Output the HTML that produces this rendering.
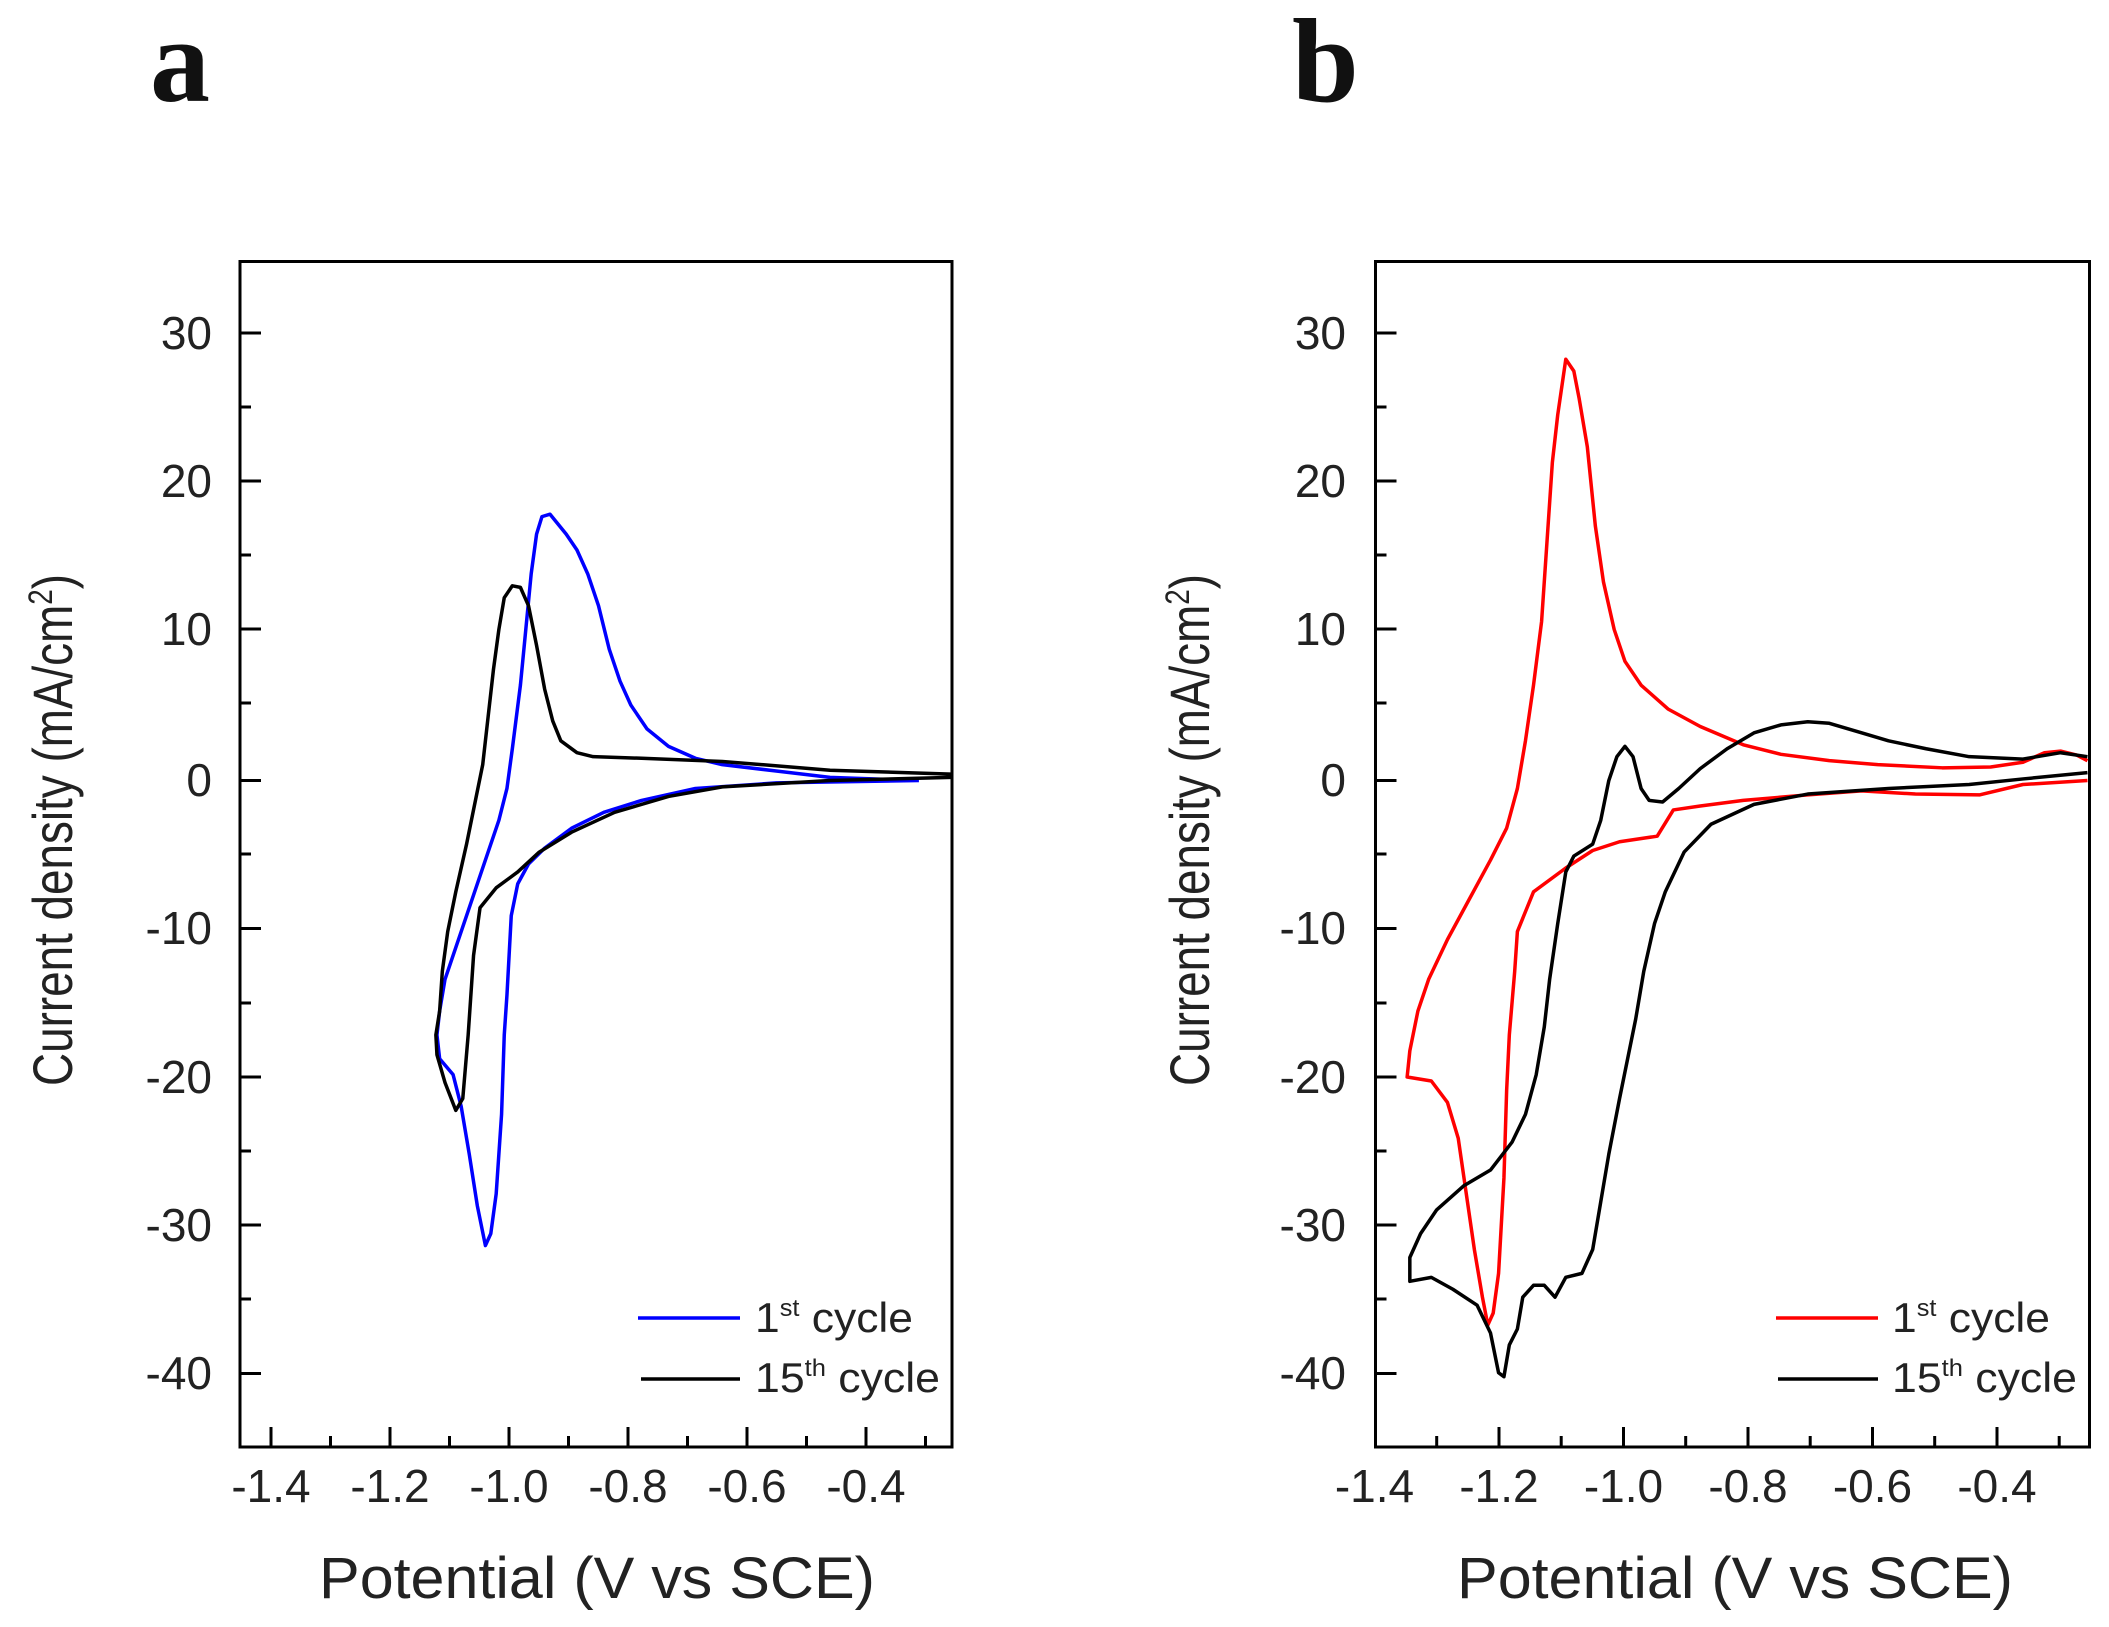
<!DOCTYPE html>
<html><head><meta charset="utf-8"><style>
html,body{margin:0;padding:0;background:#fff}
svg{display:block}
text{font-family:"Liberation Sans",Arial,sans-serif;fill:#222}
</style></head><body>
<svg width="2109" height="1627" viewBox="0 0 2109 1627" xmlns="http://www.w3.org/2000/svg">
<rect width="2109" height="1627" fill="#fff"/>
<text x="150" y="101" style="font-family:'Liberation Serif',serif;font-weight:bold;font-size:120px;fill:#111">a</text>
<text x="1292" y="101" style="font-family:'Liberation Serif',serif;font-weight:bold;font-size:120px;fill:#111">b</text>

<!-- Panel a -->
<g stroke="#000" stroke-width="3" fill="none">
<rect x="240" y="261.5" width="712" height="1185.5"/>
<path d="M240 333h21M240 481h21M240 629h21M240 780.5h21M240 928.5h21M240 1077h21M240 1225h21M240 1373.5h21
M240 407h11M240 555h11M240 703h11M240 854h11M240 1003h11M240 1151h11M240 1299h11
M271 1447v-20M390 1447v-20M509 1447v-20M628 1447v-20M747 1447v-20M866 1447v-20
M330.5 1447v-11M449.5 1447v-11M568.5 1447v-11M687.5 1447v-11M806.5 1447v-11M925.5 1447v-11"/>
</g>
<g font-size="46" text-anchor="end">
<text x="212" y="349">30</text><text x="212" y="497">20</text><text x="212" y="645">10</text><text x="212" y="796">0</text>
<text x="212" y="944">-10</text><text x="212" y="1093">-20</text><text x="212" y="1241">-30</text><text x="212" y="1389">-40</text>
</g>
<g font-size="46" text-anchor="middle">
<text x="271" y="1502">-1.4</text><text x="390" y="1502">-1.2</text><text x="509" y="1502">-1.0</text>
<text x="628" y="1502">-0.8</text><text x="747" y="1502">-0.6</text><text x="866" y="1502">-0.4</text>
</g>
<text x="597" y="1598" font-size="58" text-anchor="middle" textLength="556" lengthAdjust="spacingAndGlyphs">Potential (V vs SCE)</text>
<text transform="translate(72,830) rotate(-90)" font-size="56" text-anchor="middle" textLength="512" lengthAdjust="spacingAndGlyphs">Current density (mA/cm<tspan dy="-20" font-size="34">2</tspan><tspan dy="20">)</tspan></text>

<g transform="translate(130,240) scale(0.5385,0.7949)" fill="none" stroke-width="3.5" stroke-linejoin="round">
<polyline vector-effect="non-scaling-stroke" stroke="#0000ff" points="1465,680 1300,676 1200,668 1100,660 1050,652 1000,637 960,615 930,585 910,555 890,515 870,460 850,420 830,390 810,370 780,345 765,348 755,370 745,420 735,490 725,560 710,640 700,690 685,730 665,770 640,820 610,880 585,930 575,970 570,1000 575,1030 600,1050 615,1090 630,1150 645,1215 660,1265 670,1250 680,1200 690,1100 695,1000 700,950 708,850 720,810 740,785 770,765 820,740 880,720 950,705 1050,690 1200,683 1465,680"/>
<polyline vector-effect="non-scaling-stroke" stroke="#000" points="1525,672 1300,667 1100,656 950,652 860,650 830,645 800,630 785,605 770,565 755,510 740,460 725,437 710,435 695,450 685,490 675,540 665,600 655,660 640,710 625,760 605,820 590,870 580,920 575,970 568,1000 570,1025 585,1060 605,1095 618,1080 628,1000 638,900 650,840 680,815 720,795 760,770 820,745 900,720 1000,700 1100,688 1300,680 1525,676"/>
</g>
<line x1="638" y1="1318" x2="740" y2="1318" stroke="#0000ff" stroke-width="3.5"/>
<line x1="641" y1="1379" x2="740" y2="1379" stroke="#000" stroke-width="3.5"/>
<g font-size="42">
<text x="755" y="1332" textLength="158" lengthAdjust="spacingAndGlyphs">1<tspan dy="-16" font-size="24">st</tspan><tspan dy="16"> cycle</tspan></text>
<text x="755" y="1392" textLength="185" lengthAdjust="spacingAndGlyphs">15<tspan dy="-16" font-size="24">th</tspan><tspan dy="16"> cycle</tspan></text>
</g>

<!-- Panel b -->
<g stroke="#000" stroke-width="3" fill="none">
<rect x="1375.5" y="261.5" width="714" height="1185.5"/>
<path d="M1375.5 333h21M1375.5 481h21M1375.5 629h21M1375.5 780.5h21M1375.5 928.5h21M1375.5 1077h21M1375.5 1225h21M1375.5 1373.5h21
M1375.5 407h11M1375.5 555h11M1375.5 703h11M1375.5 854h11M1375.5 1003h11M1375.5 1151h11M1375.5 1299h11
M1499 1447v-20M1623.5 1447v-20M1748 1447v-20M1872.5 1447v-20M1997 1447v-20
M1436.7 1447v-11M1561.2 1447v-11M1685.7 1447v-11M1810.2 1447v-11M1934.7 1447v-11M2059.2 1447v-11"/>
</g>
<g font-size="46" text-anchor="end">
<text x="1346" y="349">30</text><text x="1346" y="497">20</text><text x="1346" y="645">10</text><text x="1346" y="796">0</text>
<text x="1346" y="944">-10</text><text x="1346" y="1093">-20</text><text x="1346" y="1241">-30</text><text x="1346" y="1389">-40</text>
</g>
<g font-size="46" text-anchor="middle">
<text x="1374.5" y="1502">-1.4</text><text x="1499" y="1502">-1.2</text><text x="1623.5" y="1502">-1.0</text>
<text x="1748" y="1502">-0.8</text><text x="1872.5" y="1502">-0.6</text><text x="1997" y="1502">-0.4</text>
</g>
<text x="1735" y="1598" font-size="58" text-anchor="middle" textLength="556" lengthAdjust="spacingAndGlyphs">Potential (V vs SCE)</text>
<text transform="translate(1209,830) rotate(-90)" font-size="56" text-anchor="middle" textLength="512" lengthAdjust="spacingAndGlyphs">Current density (mA/cm<tspan dy="-20" font-size="34">2</tspan><tspan dy="20">)</tspan></text>

<g transform="translate(1270,240) scale(0.5378,0.7949)" fill="none" stroke-width="3.5" stroke-linejoin="round">
<polyline vector-effect="non-scaling-stroke" stroke="#ff0000" points="1520,680 1400,685 1320,698 1200,697 1100,693 1000,698 880,705 800,712 750,717 720,750 700,752 650,757 600,768 550,790 490,820 460,870 455,920 445,1000 440,1070 435,1180 425,1300 415,1350 405,1365 395,1330 380,1270 365,1200 350,1130 330,1085 300,1058 255,1053 260,1020 275,970 295,930 330,880 370,830 410,780 440,740 460,690 475,630 490,560 505,480 515,380 525,280 535,220 550,150 565,165 575,200 590,260 605,360 620,430 640,490 660,530 690,560 740,590 800,612 880,635 950,647 1040,655 1130,660 1250,664 1340,663 1400,657 1440,645 1470,643 1500,648 1520,655"/>
<polyline vector-effect="non-scaling-stroke" stroke="#000" points="1520,670 1400,678 1300,685 1150,690 1000,697 900,710 820,735 770,770 735,820 715,860 695,920 680,980 665,1030 650,1080 630,1150 615,1210 600,1270 580,1300 550,1305 530,1330 510,1315 490,1315 470,1330 460,1370 445,1390 435,1430 425,1425 410,1375 385,1340 340,1320 300,1305 260,1310 260,1280 280,1250 310,1220 360,1190 410,1170 450,1135 475,1100 495,1050 510,990 520,930 535,860 550,795 565,775 600,760 615,730 630,680 645,650 660,637 675,650 690,690 705,705 730,707 760,690 800,665 850,640 900,620 950,610 1000,606 1040,608 1100,620 1150,630 1220,640 1300,650 1400,653 1470,645 1520,650"/>
</g>
<line x1="1776" y1="1318" x2="1878" y2="1318" stroke="#ff0000" stroke-width="3.5"/>
<line x1="1778" y1="1379" x2="1878" y2="1379" stroke="#000" stroke-width="3.5"/>
<g font-size="42">
<text x="1892" y="1332" textLength="158" lengthAdjust="spacingAndGlyphs">1<tspan dy="-16" font-size="24">st</tspan><tspan dy="16"> cycle</tspan></text>
<text x="1892" y="1392" textLength="185" lengthAdjust="spacingAndGlyphs">15<tspan dy="-16" font-size="24">th</tspan><tspan dy="16"> cycle</tspan></text>
</g>
</svg>
</body></html>
